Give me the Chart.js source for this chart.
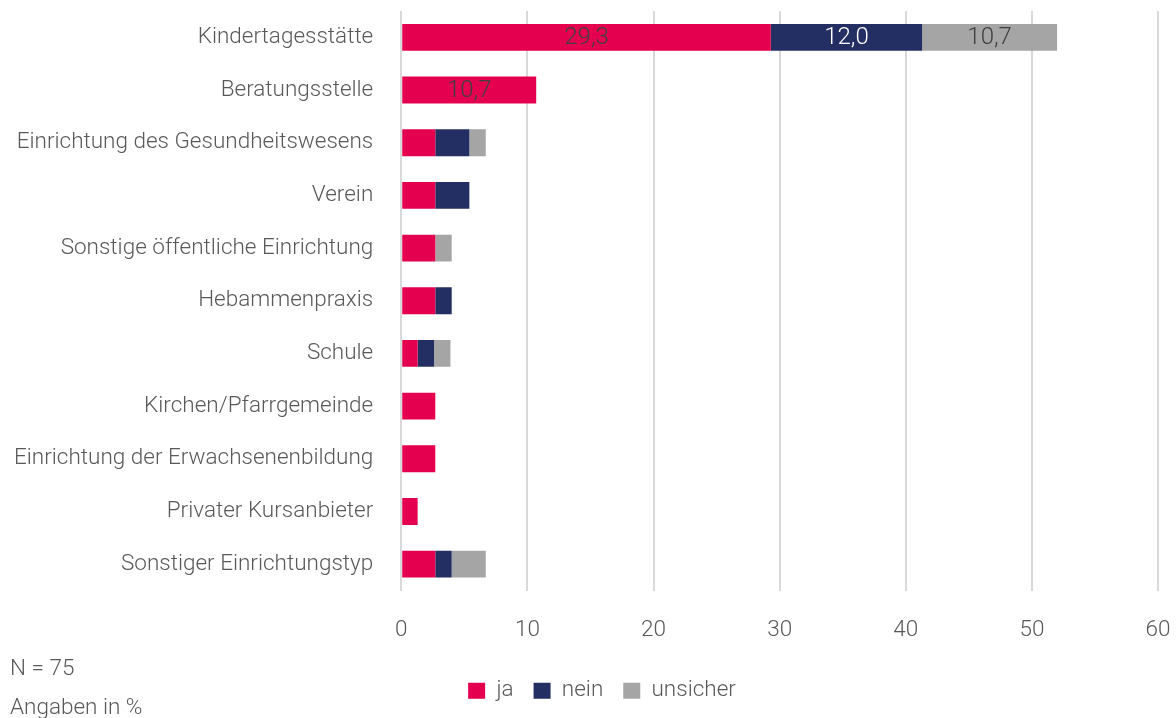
<!DOCTYPE html>
<html>
<head>
<meta charset="utf-8">
<script src="https://cdn.jsdelivr.net/npm/chart.js@4.4.0/dist/chart.umd.min.js"></script>
<style>
  html, body { margin: 0; padding: 0; background: #fff; }
  #wrap { position: relative; width: 1176px; height: 718px; }
  #graph_container { position: absolute; left: 0; top: 0; }
  .note { position: absolute; left: 10px; font: 300 22.5px Roboto, sans-serif; color: #595959; line-height: 26px; }
</style>
</head>
<body>
<div id="wrap">
  <canvas id="graph_container" width="1176" height="718"></canvas>
  <div class="note" style="top:654px">N = 75</div>
  <div class="note" style="top:693px">Angaben in %</div>
</div>
<script>
var categories = [
  "Kindertagesstätte",
  "Beratungsstelle",
  "Einrichtung des Gesundheitswesens",
  "Verein",
  "Sonstige öffentliche Einrichtung",
  "Hebammenpraxis",
  "Schule",
  "Kirchen/Pfarrgemeinde",
  "Einrichtung der Erwachsenenbildung",
  "Privater Kursanbieter",
  "Sonstiger Einrichtungstyp"
];
var ja       = [29.3, 10.7, 2.7, 2.7, 2.7, 2.7, 1.3, 2.7, 2.7, 1.3, 2.7];
var nein     = [12.0, 0,    2.7, 2.7, 0,   1.3, 1.3, 0,   0,   0,   1.3];
var unsicher = [10.7, 0,    1.3, 0,   1.3, 0,   1.3, 0,   0,   0,   2.7];
var xTicks = [0, 10, 20, 30, 40, 50, 60];

var FONT = "Roboto, sans-serif";
var TXT = "#595959";

// value labels inside the big segments
var segLabels = {
  id: 'segLabels',
  afterLayout: function(chart){
    // legend sits a little right of centre in the original
    chart.legend.left += 9;
    chart.legend.right += 9;
  },
  afterDatasetsDraw: function(chart){
    var ctx = chart.ctx;
    ctx.save();
    ctx.font = "300 24px " + FONT;
    ctx.textAlign = "center";
    ctx.textBaseline = "middle";
    chart.data.datasets.forEach(function(ds, di){
      var meta = chart.getDatasetMeta(di);
      meta.data.forEach(function(bar, i){
        var v = ds.data[i];
        if(v < 10) return;
        var cx = (bar.x + bar.base) / 2;
        ctx.fillStyle = ds.labelColor;
        ctx.fillText(v.toFixed(1).replace(".", ","), cx, bar.y + 1);
      });
    });
    ctx.restore();
  }
};

var ctx = document.getElementById('graph_container').getContext('2d');
var myChart = new Chart(ctx, {
  type: 'bar',
  data: {
    labels: categories,
    datasets: [{
      label: 'ja',
      data: ja,
      backgroundColor: "#E4004F",
      labelColor: "#404040"
    }, {
      label: 'nein',
      data: nein,
      backgroundColor: "#232E63",
      labelColor: "#ffffff"
    }, {
      label: 'unsicher',
      data: unsicher,
      backgroundColor: "#A5A5A5",
      labelColor: "#404040"
    }]
  },
  options: {
    indexAxis: 'y',
    responsive: false,
    animation: false,
    layout: { padding: { left: 10, right: 0, top: 11, bottom: 6 } },
    datasets: { bar: { categoryPercentage: 1.0, barPercentage: 0.51 } },
    scales: {
      x: {
        stacked: true,
        min: 0,
        max: 60,
        afterBuildTicks: function(axis){
          axis.ticks = xTicks.map(function(v){ return { value: v }; });
        },
        afterFit: function(scale){
          scale.paddingRight = 18;
          scale.height -= 10;
        },
        grid: { color: "#D9D9D9", lineWidth: 2, drawTicks: false },
        border: { display: false },
        ticks: { color: TXT, font: { family: FONT, size: 22.5, weight: 300 }, padding: 26 }
      },
      y: {
        stacked: true,
        afterFit: function(scale){
          scale.paddingTop = 0;
          scale.paddingBottom = 0;
          scale.width -= 16;
        },
        grid: { display: false },
        border: { display: false },
        ticks: { color: TXT, font: { family: FONT, size: 22.5, weight: 300 }, padding: 20 }
      }
    },
    plugins: {
      tooltip: { enabled: false },
      legend: {
        position: 'bottom',
        labels: {
          boxWidth: 17,
          boxHeight: 16,
          padding: 20,
          color: TXT,
          font: { family: FONT, size: 22.5, weight: 300 }
        }
      }
    }
  },
  plugins: [segLabels]
});
</script>
</body>
</html>
